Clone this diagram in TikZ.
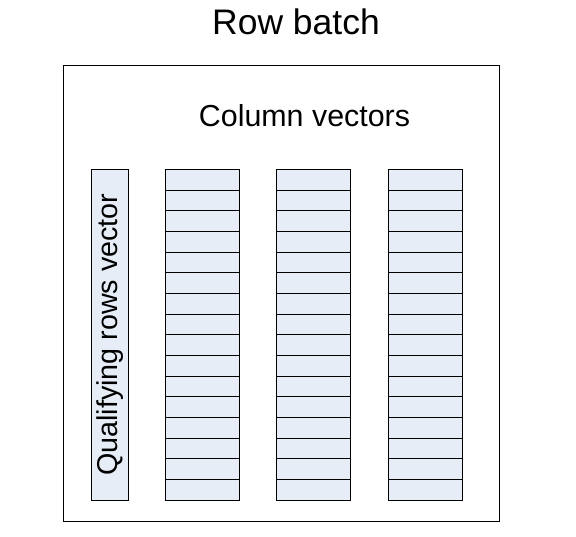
\documentclass[tikz,border=0pt]{standalone}
\usepackage{fontspec}
\setmainfont{Liberation Sans}
\definecolor{cellblue}{RGB}{230,237,247}

\begin{document}
\begin{tikzpicture}[x=1bp, y=-1bp,
    batch/.style ={rectangle, draw, line width=0.9bp, inner sep=0pt, minimum width=436bp, minimum height=456bp},
    cell/.style ={rectangle, draw, fill=cellblue, line width=0.9bp, inner sep=0pt, minimum width=74bp, minimum height=20.67bp},
    qualify/.style ={rectangle, draw, fill=cellblue, line width=0.9bp, inner sep=0pt, rotate=90, minimum width=330.7bp, minimum height=36.6bp, font=\fontsize{28.8}{32}\selectfont}]
   \useasboundingbox (0,0) rectangle (576,537);
   \node[anchor=base, font=\fontsize{35.6}{40}\selectfont] (title) at (296,35) {Row batch};
   \node[batch] (box) at (281.3,293.3) {};
   \node[anchor=base, font=\fontsize{30.5}{34}\selectfont] (columns) at (304.5,127) {Column vectors};
   \node[qualify] (rows) at (110,334.7) {Qualifying rows vector};
   \foreach \col/\x in {1/202.5, 2/313.7, 3/425.3}
     \foreach \row in {1,...,16}
       \node[cell] (c\col-\row) at (\x, {169.3+(\row-0.5)*20.67}) {};
\end{tikzpicture}
\end{document}
